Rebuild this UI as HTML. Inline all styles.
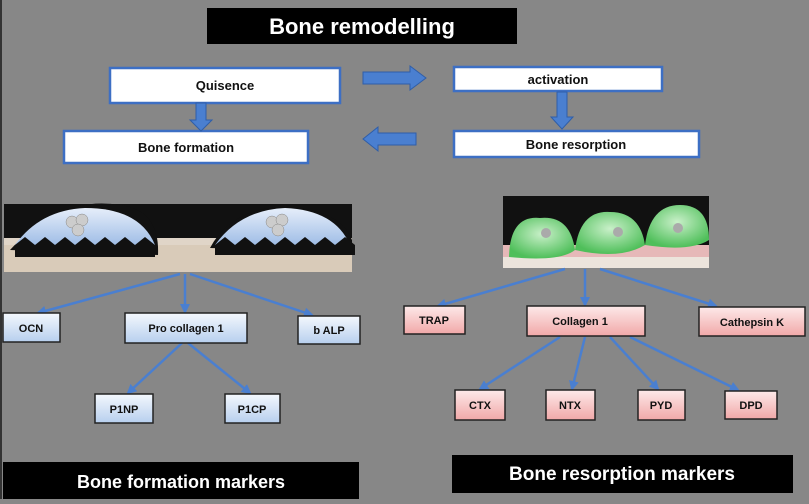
<!DOCTYPE html>
<html><head><meta charset="utf-8"><style>
html,body{margin:0;padding:0}
body{width:809px;height:499px;background:#878787;overflow:hidden;font-family:"Liberation Sans",sans-serif}
</style></head><body>
<svg width="809" height="499" viewBox="0 0 809 499" xmlns="http://www.w3.org/2000/svg" font-family="Liberation Sans, sans-serif" font-weight="bold">
<defs>
<linearGradient id="bl" x1="0" y1="0" x2="0" y2="1"><stop offset="0" stop-color="#f4f8fd"/><stop offset="1" stop-color="#b7cfee"/></linearGradient>
<linearGradient id="pk" x1="0" y1="0" x2="0" y2="1"><stop offset="0" stop-color="#fde9e9"/><stop offset="1" stop-color="#f1a8a8"/></linearGradient>
<linearGradient id="dome" x1="0" y1="0" x2="0" y2="1"><stop offset="0" stop-color="#e6eefa"/><stop offset="1" stop-color="#9fbde6"/></linearGradient>
<radialGradient id="gr" cx="0.5" cy="0.4" r="0.6"><stop offset="0" stop-color="#c9f0c9"/><stop offset="1" stop-color="#4fbf5a"/></radialGradient>
<marker id="ah" viewBox="0 0 10 10" refX="8" refY="5" markerWidth="4" markerHeight="4" orient="auto"><path d="M0,0L10,5L0,10z" fill="#4a7fd0"/></marker>
</defs>
<rect x="0" y="0" width="809" height="499" fill="#878787"/>
<rect x="0" y="0" width="2" height="499" fill="#333"/>
<!-- Title -->
<rect x="207" y="8" width="310" height="36" fill="#000"/>
<text x="362" y="34" fill="#fff" font-size="22" text-anchor="middle">Bone remodelling</text>
<!-- top boxes -->
<g stroke="#3d6fc4" stroke-width="2.5" fill="#fff">
<rect x="110" y="68" width="230" height="35"/>
<rect x="64" y="131" width="244" height="32"/>
<rect x="454" y="67" width="208" height="24"/>
<rect x="454" y="131" width="245" height="26"/>
</g>
<g font-size="13" fill="#111" text-anchor="middle">
<text x="225" y="90">Quisence</text>
<text x="186" y="152">Bone formation</text>
<text x="558" y="84">activation</text>
<text x="576" y="149">Bone resorption</text>
</g>
<!-- block arrows -->
<g fill="#4a7fd0" stroke="#2f5ea8" stroke-width="1">
<path d="M363,72H410V66L426,78L410,90V84H363Z"/>
<path d="M416,133H378V127L363,139L378,151V145H416Z"/>
<path d="M196,103H206V120H212L201,131L190,120H196Z"/>
<path d="M557,92H567V117H573L562,129L551,117H557Z"/>
</g>
<!-- left image -->
<rect x="4" y="204" width="348" height="68" fill="#e0d5c8"/>
<rect x="4" y="204" width="348" height="34" fill="#111"/>
<rect x="4" y="245" width="348" height="27" fill="#d9cbb9"/>
<path d="M10,250 Q60,195 120,205 Q160,210 158,255 Z" fill="#111"/>
<path d="M15,245 Q40,210 85,208 Q140,208 155,245 Z" fill="url(#dome)"/>
<path d="M15,245 l10,-8 l10,8 l10,-8 l10,8 l10,-8 l10,8 l10,-8 l10,8 l10,-8 l10,8 l10,-8 l10,8 l10,-8 l10,8 l0,12 l-140,0z" fill="#111"/>
<path d="M210,248 Q230,210 280,207 Q340,208 352,240 L352,252Z" fill="#111"/>
<path d="M215,245 Q240,210 285,208 Q335,210 350,245 Z" fill="url(#dome)"/>
<path d="M215,245 l10,-8 l10,8 l10,-8 l10,8 l10,-8 l10,8 l10,-8 l10,8 l10,-8 l10,8 l10,-8 l10,8 l10,-8 l10,8 l0,10 l-140,0z" fill="#111"/>
<g fill="#ccc" stroke="#888" stroke-width="0.5"><circle cx="72" cy="222" r="6"/><circle cx="82" cy="220" r="6"/><circle cx="78" cy="230" r="6"/><circle cx="272" cy="222" r="6"/><circle cx="282" cy="220" r="6"/><circle cx="278" cy="230" r="6"/></g>
<!-- right image -->
<rect x="503" y="196" width="206" height="72" fill="#111"/>
<rect x="503" y="245" width="206" height="23" fill="#e6b8b8"/>
<rect x="503" y="257" width="206" height="11" fill="#ece4dc"/>
<path d="M509,257 Q510,215 540,218 Q570,215 575,250 Q560,262 509,257Z" fill="url(#gr)"/>
<path d="M575,250 Q580,210 610,212 Q640,212 645,245 Q620,260 575,250Z" fill="url(#gr)"/>
<path d="M645,245 Q650,205 680,205 Q709,205 709,240 Q690,252 645,245Z" fill="url(#gr)"/>
<g fill="#aaa"><circle cx="546" cy="233" r="5"/><circle cx="618" cy="232" r="5"/><circle cx="678" cy="228" r="5"/></g>
<!-- connectors -->
<g stroke="#4a7fd0" stroke-width="2.5" fill="none" marker-end="url(#ah)">
<line x1="180" y1="274" x2="38" y2="313"/>
<line x1="185" y1="274" x2="185" y2="312"/>
<line x1="190" y1="274" x2="312" y2="315"/>
<line x1="182" y1="343" x2="128" y2="393"/>
<line x1="188" y1="343" x2="250" y2="393"/>
<line x1="565" y1="269" x2="438" y2="306"/>
<line x1="585" y1="269" x2="585" y2="305"/>
<line x1="600" y1="269" x2="716" y2="306"/>
<line x1="560" y1="337" x2="480" y2="389"/>
<line x1="585" y1="337" x2="572" y2="389"/>
<line x1="610" y1="337" x2="658" y2="389"/>
<line x1="630" y1="337" x2="738" y2="390"/>
</g>
<!-- marker boxes -->
<g stroke="#222" stroke-width="1.5">
<rect x="3" y="313" width="57" height="29" fill="url(#bl)"/>
<rect x="125" y="313" width="122" height="30" fill="url(#bl)"/>
<rect x="298" y="316" width="62" height="28" fill="url(#bl)"/>
<rect x="95" y="394" width="58" height="29" fill="url(#bl)"/>
<rect x="225" y="394" width="55" height="29" fill="url(#bl)"/>
<rect x="404" y="306" width="61" height="28" fill="url(#pk)"/>
<rect x="527" y="306" width="118" height="30" fill="url(#pk)"/>
<rect x="699" y="307" width="106" height="29" fill="url(#pk)"/>
<rect x="455" y="390" width="50" height="30" fill="url(#pk)"/>
<rect x="546" y="390" width="49" height="30" fill="url(#pk)"/>
<rect x="638" y="390" width="47" height="30" fill="url(#pk)"/>
<rect x="725" y="391" width="52" height="28" fill="url(#pk)"/>
</g>
<g font-size="11" fill="#111" text-anchor="middle">
<text x="31" y="332">OCN</text>
<text x="186" y="332">Pro collagen 1</text>
<text x="329" y="334">b ALP</text>
<text x="124" y="413">P1NP</text>
<text x="252" y="413">P1CP</text>
<text x="434" y="324">TRAP</text>
<text x="580" y="325">Collagen 1</text>
<text x="752" y="326">Cathepsin K</text>
<text x="480" y="409">CTX</text>
<text x="570" y="409">NTX</text>
<text x="661" y="409">PYD</text>
<text x="751" y="409">DPD</text>
</g>
<!-- bottom labels -->
<rect x="3" y="462" width="356" height="37" fill="#000"/>
<text x="181" y="488" fill="#fff" font-size="18" text-anchor="middle">Bone formation  markers</text>
<rect x="452" y="455" width="341" height="38" fill="#000"/>
<text x="622" y="480" fill="#fff" font-size="19" text-anchor="middle">Bone resorption markers</text>
</svg>
</body></html>
